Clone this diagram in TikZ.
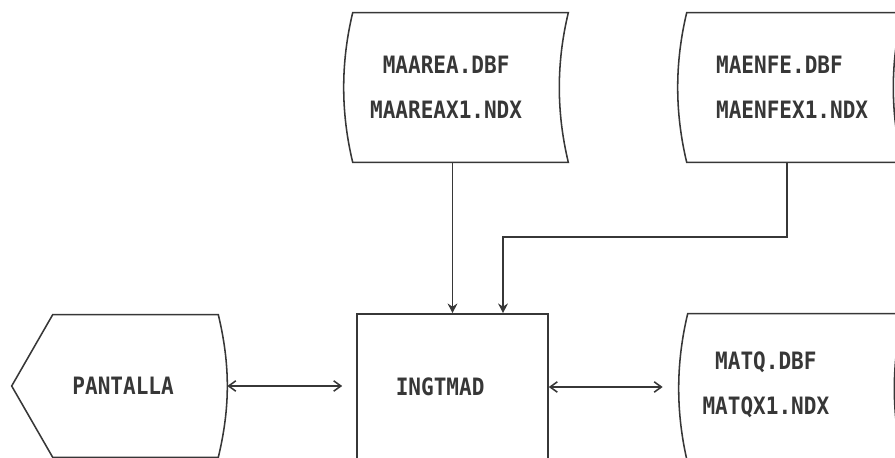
\documentclass[tikz,border=0pt]{standalone}
\usepackage{fontspec}
\usetikzlibrary{arrows.meta,calc}
\newfontfamily\impresora[FakeStretch=0.88]{DejaVu Sans Mono}
\definecolor{tinta}{RGB}{55,55,55}

\tikzset{
  linea/.style={draw=tinta, line width=1.1pt},
  archivo/.style={rectangle, minimum width=5.375cm, minimum height=3.725cm, inner sep=0pt},
  proceso/.style={rectangle, linea, minimum width=4.775cm, minimum height=3.65cm, inner sep=0pt},
  pantallazo/.style={rectangle, minimum width=5.375cm, minimum height=3.55cm, inner sep=0pt},
  rotulo/.style={font=\impresora\bfseries\fontsize{17}{32}\selectfont, text=tinta, align=center, inner sep=0pt},
  baja/.style={linea, -{Stealth[length=2.4mm,width=2.4mm]}},
  doble/.style={linea, {Straight Barb[length=1.8mm,width=2.6mm]}-{Straight Barb[length=1.8mm,width=2.6mm]}},
}

\begin{document}
\begin{tikzpicture}[x=0.025cm, y=-0.025cm]
  \useasboundingbox (0,0) rectangle (895,458);
  \clip (0,0) rectangle (895,458);

  % Archivos
  \node[archivo, label={[rotulo, xshift=-0.36cm]center:{MAAREA.DBF\\MAAREAX1.NDX}}] (maarea) at (460.5,87.5) {};
  \node[archivo, label={[rotulo, align=left, xshift=-0.06cm]center:{MAENFE.DBF\\MAENFEX1.NDX}}] (maenfe) at (794.5,87.5) {};
  \node[archivo, label={[rotulo, xshift=-0.74cm, yshift=0.09cm]center:{MATQ.DBF\\MATQX1.NDX}}] (matq) at (795.5,388.5) {};

  \foreach \f in {maarea,maenfe,matq}
    \draw[linea] (\f.north west) -- (\f.north east)
      .. controls +(-12,50) and +(-12,-50) .. (\f.south east) -- (\f.south west)
      .. controls +(-12,-50) and +(-12,50) .. (\f.north west) -- cycle;

  % Programa
  \node[proceso, label={[rotulo, xshift=-0.31cm]center:INGTMAD}] (ingtmad) at (452.5,387) {};

  % Pantalla
  \node[pantallazo, label={[rotulo, xshift=0.09cm]center:PANTALLA}] (pantalla) at (119.5,386) {};
  \draw[linea] (pantalla.west) -- ($(pantalla.north west)+(41,0)$) -- ($(pantalla.north east)+(-9,0)$)
    .. controls +(12,50) and +(12,-50) .. ($(pantalla.south east)+(-9,0)$)
    -- ($(pantalla.south west)+(41,0)$) -- cycle;

  % Flujos
  \coordinate (codo) at (503,237);
  \draw[baja] (ingtmad.north |- maarea.south) -- (ingtmad.north);
  \draw[baja] ([xshift=-0.19cm]maenfe.south) |- (codo) -- (codo |- ingtmad.north);
  \draw[doble, shorten >=0.35cm] (pantalla.east) -- (pantalla.east -| ingtmad.west);
  \draw[doble, shorten >=0.625cm] (ingtmad.east) -- (ingtmad.east -| matq.west);
\end{tikzpicture}
\end{document}
